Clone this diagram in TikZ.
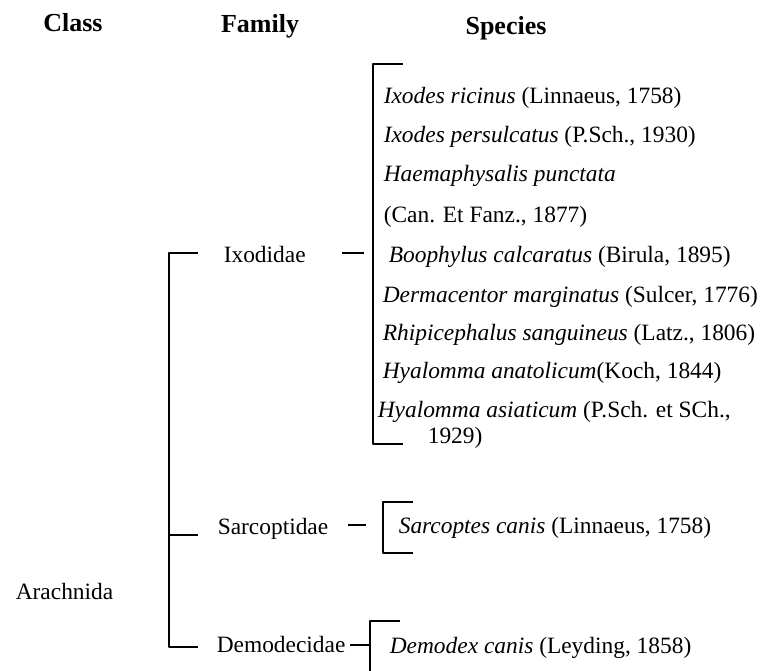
\documentclass[tikz,border=0pt]{standalone}
\usepackage{fontspec}
\setmainfont{Liberation Serif}
\begin{document}
\begin{tikzpicture}[x=1pt,y=-1pt,line width=1.6pt,line join=round,
	font={\fontsize{23.4pt}{28pt}\selectfont},
	txt/.style={anchor=base west,inner sep=0pt},
	hd/.style={anchor=base,inner sep=0pt,font={\fontsize{26pt}{30pt}\selectfont\bfseries}}]
	\useasboundingbox (0,0) rectangle (765,670);
	% Tieu de
	\node[hd] (cls) at (73,31) {Class};
	\node[hd] (fam) at (260,32) {Family};
	\node[hd] (spc) at (506,34) {Species};
	% Lop va ho
	\node[txt] (arach) at (15,599) {Arachnida};
	\node[txt] (ixo) at (223,262) {Ixodidae};
	\node[txt] (sarc) at (217,534) {Sarcoptidae};
	\node[txt] (demo) at (216,652) {Demodecidae};
	% Loai
	\node[txt] (s1) at (383,103) {\textit{Ixodes ricinus} (Linnaeus, 1758)};
	\node[txt] (s2) at (383,142) {\textit{Ixodes persulcatus} (P.Sch., 1930)};
	\node[txt] (s3) at (383,181) {\textit{Haemaphysalis punctata}};
	\node[txt] (s3b) at (383,222) {(Can. Et Fanz., 1877)};
	\node[txt] (s4) at (388,262) {\textit{Boophylus calcaratus} (Birula, 1895)};
	\node[txt] (s5) at (382,302) {\textit{Dermacentor marginatus} (Sulcer, 1776)};
	\node[txt] (s6) at (382,340) {\textit{Rhipicephalus sanguineus} (Latz., 1806)};
	\node[txt] (s7) at (382,378) {\textit{Hyalomma anatolicum}(Koch, 1844)};
	\node[txt] (s8) at (377,417) {\textit{Hyalomma asiaticum} (P.Sch. et SCh.,};
	\node[txt] (s8b) at (427,443) {1929)};
	\node[txt] (s9) at (398,533) {\textit{Sarcoptes canis} (Linnaeus, 1758)};
	\node[txt] (s10) at (389,653) {\textit{Demodex canis} (Leyding, 1858)};
	% Ngoac
	\coordinate (a1) at (169,253);
	\coordinate (a2) at (169,535);
	\coordinate (a3) at (169,647);
	\draw (198,253) -- (a1) -- (a3) -- (198,647);
	\draw (a2) -- (198,535);
	\draw (403,64) -- (373,64) -- (373,444) -- (403,444);
	\draw (413,502) -- (383,502) -- (383,553) -- (413,553);
	\draw (400,621) -- (370,621) -- (370,672);
	% Gach noi
	\draw (342,253) -- (364,253);
	\draw (348,525) -- (366,525);
	\draw (350,645) -- (370,645);
\end{tikzpicture}
\end{document}
